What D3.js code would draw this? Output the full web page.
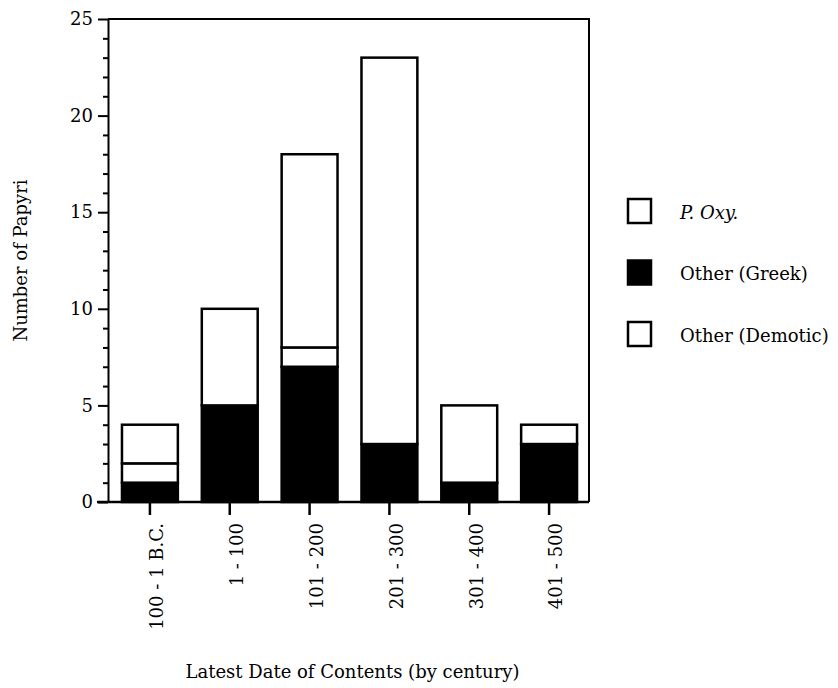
<!doctype html>
<html lang="en">
<head>
    <meta charset="utf-8">
    <script src="https://d3js.org/d3.v7.min.js"></script>
    <style>
        body { margin: 0; background: #fff; }
        text { font-family: "DejaVu Serif", serif; fill: #000; }
    </style>
</head>
<body>
    <div id="chart"></div>
    <script>
        // data
        var categories = ["100 - 1 B.C.", "1 - 100", "101 - 200", "201 - 300", "301 - 400", "401 - 500"];
        var greek   = [1, 5, 7, 3, 1, 3];
        var demotic = [1, 0, 1, 0, 0, 0];
        var pOxy    = [2, 5, 10, 20, 4, 1];
        var yMajor = [0, 5, 10, 15, 20, 25];
        var legendLabels = ["P. Oxy.", "Other (Greek)", "Other (Demotic)"];

        var width = 838, height = 688;
        var margin = { top: 19, right: 249, bottom: 186, left: 108 };
        var innerW = width - margin.left - margin.right,
            innerH = height - margin.top - margin.bottom;

        var svg = d3.select("#chart").append("svg")
            .attr("width", width)
            .attr("height", height);
        var g = svg.append("g")
            .attr("transform", "translate(" + margin.left + "," + margin.top + ")");

        var table = categories.map(function (c, i) {
            return { cat: c, greek: greek[i], demotic: demotic[i], pOxy: pOxy[i] };
        });
        var keys = ["greek", "demotic", "pOxy"];
        var fills = { greek: "#000", demotic: "#fff", pOxy: "#fff" };
        var series = d3.stack().keys(keys)(table);

        var x = d3.scaleBand().domain(categories).range([2, innerW])
            .paddingInner(0.3).paddingOuter(0.15);
        var y = d3.scaleLinear().domain([0, 25]).range([innerH, 0]);

        // frame top and right
        g.append("path")
            .attr("d", "M0,0H" + innerW + "V" + innerH)
            .attr("fill", "none")
            .attr("stroke", "#000")
            .attr("stroke-width", 2);

        // bars
        series.forEach(function (s) {
            g.append("g").selectAll("rect")
                .data(s.filter(function (d) { return d[1] > d[0]; }))
                .join("rect")
                .attr("x", function (d) { return x(d.data.cat); })
                .attr("y", function (d) { return y(d[1]); })
                .attr("width", x.bandwidth())
                .attr("height", function (d) { return y(d[0]) - y(d[1]); })
                .attr("fill", fills[s.key])
                .attr("stroke", "#000")
                .attr("stroke-width", 2.5);
        });

        // y axis: minor ticks then major
        var yMinor = d3.range(0, 26).filter(function (v) { return v % 5 !== 0; });
        g.append("g")
            .call(d3.axisLeft(y).tickValues(yMinor).tickSize(5).tickFormat(""))
            .call(function (a) { a.select(".domain").remove(); })
            .selectAll("line").attr("stroke-width", 2);
        var yAx = g.append("g")
            .call(d3.axisLeft(y).tickValues(yMajor).tickSize(10).tickPadding(5).tickSizeOuter(0));
        yAx.select(".domain").attr("stroke-width", 2);
        yAx.selectAll("line").attr("stroke-width", 2);
        yAx.selectAll("text").style("font-size", "18px");

        // x axis
        var xAx = g.append("g")
            .attr("transform", "translate(0," + innerH + ")")
            .call(d3.axisBottom(x).tickSize(13).tickSizeOuter(0));
        xAx.select(".domain").attr("d", "M-11,0H" + innerW).attr("stroke-width", 2.5);
        xAx.selectAll("line").attr("stroke-width", 2.5);
        xAx.selectAll("text")
            .style("font-size", "18px")
            .attr("transform", "rotate(-90)")
            .attr("text-anchor", "end")
            .attr("x", -21)
            .attr("y", 0)
            .attr("dy", "0.74em");

        // axis titles
        svg.append("text")
            .attr("transform", "translate(27," + (margin.top + innerH / 2) + ") rotate(-90)")
            .attr("text-anchor", "middle")
            .style("font-size", "18px")
            .text("Number of Papyri");
        svg.append("text")
            .attr("x", margin.left + innerW / 2 + 4)
            .attr("y", 678)
            .attr("text-anchor", "middle")
            .style("font-size", "18px")
            .text("Latest Date of Contents (by century)");

        // legend
        var legendFill = ["#fff", "#000", "#fff"];
        var ly = d3.scalePoint().domain(legendLabels).range([211, 334]);
        var leg = svg.append("g").selectAll("g")
            .data(legendLabels)
            .join("g")
            .attr("transform", function (d) { return "translate(628," + ly(d) + ")"; });
        leg.append("rect")
            .attr("x", 0).attr("y", -12)
            .attr("width", 23).attr("height", 24)
            .attr("fill", function (d, i) { return legendFill[i]; })
            .attr("stroke", "#000")
            .attr("stroke-width", 2.5);
        leg.append("text")
            .attr("x", 52)
            .attr("dy", "0.42em")
            .style("font-size", "18px")
            .style("font-style", function (d, i) { return i === 0 ? "italic" : "normal"; })
            .text(function (d) { return d; });
    </script>
</body>
</html>
